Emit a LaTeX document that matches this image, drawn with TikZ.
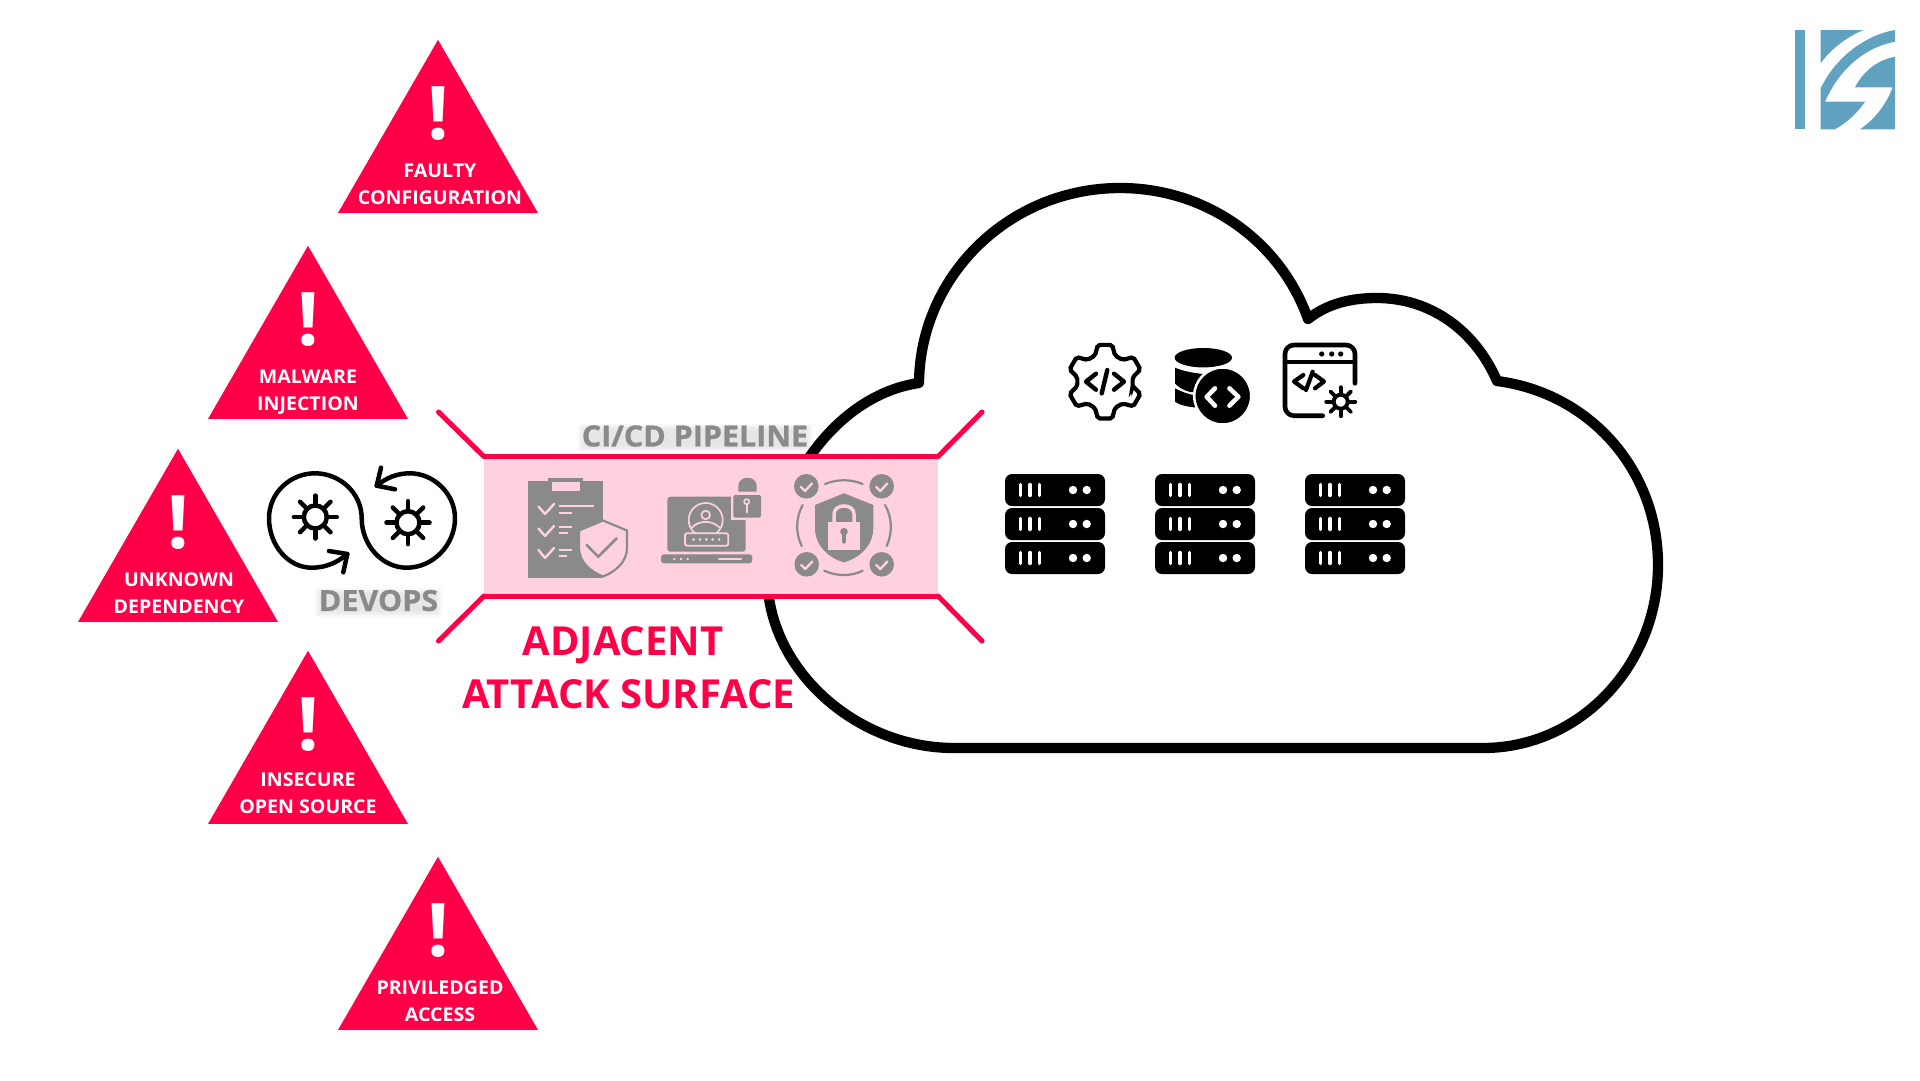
\documentclass[tikz,border=0pt]{standalone}
\usepackage{fontspec}
\setmainfont{Open Sans}[BoldFeatures={FakeStretch=1.03}]
\newfontfamily\titlefont{Open Sans}[BoldFeatures={FakeBold=0.9,FakeStretch=1.05}]
\newfontfamily\redfont{Open Sans}
\usetikzlibrary{shapes.geometric,shadows.blur}
\definecolor{alertred}{HTML}{FF0048}
\definecolor{surfacepink}{HTML}{FFD1DF}
\definecolor{icongray}{HTML}{8A8A8A}
\definecolor{logoblue}{HTML}{62A2C1}
\newcommand{\ringgear}[5]{%
  \begin{scope}[shift={(#1,#2)}]
    \draw[line width=#5] (0,0) circle[radius=#3];
    \foreach \a in {0,45,...,315} {\draw[line width=#5,line cap=round] (\a:#3) -- (\a:#4);}
  \end{scope}}
\tikzset{
  alerttri/.style={regular polygon,regular polygon sides=3,minimum size=230.9bp,inner sep=0,outer sep=0,fill=alertred},
  alertmark/.style={anchor=base,yshift=16bp,text=white,font=\bfseries\fontsize{74bp}{74bp}\selectfont,inner sep=0},
  alertlabel/.style={anchor=south,xshift=2bp,yshift=8.6bp,text=white,align=center,inner sep=0,text depth=0bp,font=\bfseries\fontsize{19bp}{27bp}\selectfont},
  spike/.style={draw=alertred,line width=5bp,line cap=round},
  graytitle/.style={inner sep=1bp,text=icongray,font=\titlefont\bfseries\fontsize{29bp}{29bp}\selectfont,
    blur shadow={shadow xshift=0bp,shadow yshift=-2bp,shadow blur radius=4bp,shadow opacity=10}},
  redtitle/.style={text=alertred,inner sep=0,anchor=base,font=\redfont\bfseries\fontsize{40bp}{40bp}\selectfont},
  grayline/.style={draw=icongray,line width=2.2bp,line cap=round,line join=round},
  pinkline/.style={draw=surfacepink,line width=1.7bp,line cap=round,line join=round},
  pics/rack/.style={code={
    \foreach \r in {0,34,68} {
      \fill[black,rounded corners=7bp] (0,\r) rectangle (100,\r+32);
      \foreach \s in {15.7,25,34.3} {\draw[white,line width=3.4bp,line cap=round] (\s,\r+10.5) -- (\s,\r+21.5);}
      \fill[white] (68,\r+16) circle[radius=4.2] (81.7,\r+16) circle[radius=4.2];
    }}},
}
\begin{document}
\begin{tikzpicture}[x=1bp,y=-1bp]
	\useasboundingbox (0,0) rectangle (1920,1080);
	%% cloud
	\draw[line width=10.3bp,line join=round,fill=white] (954,748) -- (1483,748)
	  .. controls (1580,748) and (1658,665) .. (1658,565)
	  .. controls (1658,470) and (1590,393) .. (1497,381)
	  .. controls (1475,330) and (1430,298) .. (1377,298)
	  .. controls (1350,298) and (1327,304) .. (1308,319)
	  .. controls (1280,240) and (1205,188) .. (1120,188)
	  .. controls (1010,188) and (920,275) .. (919,383)
	  .. controls (835,395) and (768,490) .. (768,590)
	  .. controls (776,676) and (860,748) .. (954,748) -- cycle;
	%% triangles
	\node (Faulty) at (438,155.3) [alerttri] {};
	\node (Malware) at (308,361.2) [alerttri] {};
	\node (Unknown) at (178,564.2) [alerttri] {};
	\node (Insecure) at (308,766.2) [alerttri] {};
	\node (Priv) at (438,972.2) [alerttri] {};
	\node (FaultyMark) at (Faulty.center) [alertmark] {!};
	\node (MalwareMark) at (Malware.center) [alertmark] {!};
	\node (UnknownMark) at (Unknown.center) [alertmark] {!};
	\node (InsecureMark) at (Insecure.center) [alertmark] {!};
	\node (PrivMark) at (Priv.center) [alertmark] {!};
	\node (FaultyText) at (Faulty.south) [alertlabel] {FAULTY\\CONFIGURATION};
	\node (MalwareText) at (Malware.south) [alertlabel,xshift=-2bp,yshift=-0.8bp] {MALWARE\\INJECTION};
	\node (UnknownText) at (Unknown.south) [alertlabel,xshift=-1bp] {UNKNOWN\\DEPENDENCY};
	\node (InsecureText) at (Insecure.south) [alertlabel,xshift=-2bp,yshift=2bp] {INSECURE\\OPEN SOURCE};
	\node (PrivText) at (Priv.south) [alertlabel] {PRIVILEDGED\\ACCESS};
	%% surface
	\node (Surface) at (711,526.3) [minimum width=454bp,minimum height=139.4bp,inner sep=0,outer sep=0,fill=surfacepink] {};
	\coordinate (SpikeNW) at (438.5,412);
	\coordinate (SpikeNE) at (982,412);
	\coordinate (SpikeSW) at (438.5,641);
	\coordinate (SpikeSE) at (982,641);
	\draw [spike] (Surface.north west) -- (SpikeNW);
	\draw [spike] (Surface.north east) -- (SpikeNE);
	\draw [spike] (Surface.south west) -- (SpikeSW);
	\draw [spike] (Surface.south east) -- (SpikeSE);
	\draw [spike,line cap=butt] (Surface.north west) -- (Surface.north east);
	\draw [spike,line cap=butt] (Surface.south west) -- (Surface.south east);
	\node (Pipeline) at (695,436) [graytitle] {CI/CD PIPELINE};
	\node (Devops) at (378.5,600.5) [graytitle] {DEVOPS};
	\node (Adjacent) at (623,655.7) [redtitle] {ADJACENT};
	\node (Attack) at (628.5,708.5) [redtitle] {ATTACK SURFACE};
	%% devops loop
	\draw[line width=4.5bp,line cap=round] (347.3,554) .. controls (337,563) and (325,567.7) .. (311.7,567.7)
	  .. controls (288,567.7) and (269,545) .. (269,518.3)
	  .. controls (269,493) and (290,473.3) .. (315,473.3)
	  .. controls (340,473.3) and (361.7,493) .. (361.7,518.3)
	  .. controls (361.7,545) and (382,567.7) .. (406.7,567.7)
	  .. controls (433,567.7) and (455,545) .. (455,518.3)
	  .. controls (455,493) and (433,473.3) .. (410,473.3)
	  .. controls (397,473.3) and (386,478) .. (376.7,485.7);
	\draw[line width=4.5bp,line cap=round,line join=round] (329,551) -- (347.3,554) -- (343.3,572.3);
	\draw[line width=4.5bp,line cap=round,line join=round] (381,467.7) -- (376.7,485.7) -- (395,489.3);
	\ringgear{315.3}{517}{11.5}{21.5}{4.5bp}
	\ringgear{408}{522.7}{11.5}{21.5}{4.5bp}
	%% clipboard
	\fill[icongray] (528.3,481) rectangle (603.3,577.7);
	\fill[icongray] (548.3,478.3) rectangle (583.3,483);
	\fill[surfacepink] (551.7,481.7) rectangle (580,490.7);
	\draw[pinkline,line width=2.4bp] (538.5,506.5) -- (545,514) -- (554,504);
	\draw[pinkline,line width=2.4bp] (538.5,528.5) -- (545,536) -- (554,526);
	\draw[pinkline,line width=2.4bp] (538.5,550) -- (545,558) -- (554,548);
	\draw[pinkline,line width=2bp,line cap=butt] (558.5,506.3) -- (594,506.3) (558.5,512.7) -- (571.7,512.7);
	\draw[pinkline,line width=2bp,line cap=butt] (558.5,527.3) -- (571.7,527.3) (558.5,533.3) -- (568.3,533.3);
	\draw[pinkline,line width=2bp,line cap=butt] (558.5,549.7) -- (572,549.7) (558.5,555.7) -- (566.7,555.7);
	\draw[draw=icongray,fill=surfacepink,line width=2.2bp,line join=round] (603,520.5) -- (627,530.5) -- (627,548)
	  .. controls (627,562) and (615,572) .. (603,576.5) .. controls (591,572) and (579,562) .. (579,548) -- (579,530.5) -- cycle;
	\draw[grayline,line width=2.6bp] (586.7,545) -- (598.3,556.7) -- (616.7,538.3);
	%% laptop
	\fill[icongray,rounded corners=3bp] (667.3,496.7) rectangle (745.7,551.7);
	\draw[draw=surfacepink,line width=1.6bp,fill=surfacepink] (731.5,493.5) rectangle (762.5,519);
	\fill[icongray] (738.3,491.5) -- (738.3,486 ) .. controls (738.3,475) and (756.7,475) .. (756.7,486) -- (756.7,491.5) -- cycle;
	\fill[icongray,rounded corners=1.5bp] (733.3,495) rectangle (761,517.7);
	\draw[pinkline] (746.7,501.7) circle[radius=2.6];
	\draw[pinkline] (746.7,504.3) -- (746.7,512.5);
	\draw[pinkline] (705.7,520) circle[radius=17];
	\draw[pinkline] (705.7,515) circle[radius=4.3];
	\draw[pinkline] (692,527.5) .. controls (699,520) and (712,520) .. (719.5,527.5);
	\draw[draw=surfacepink,line width=1.7bp,fill=icongray,rounded corners=1.5bp] (685,533.3) rectangle (728.3,545.7);
	\foreach \d in {693.5,699.9,706.3,712.7,719.1} {\fill[surfacepink] (\d,539.5) circle[radius=1.5];}
	\fill[icongray,rounded corners=3bp] (661,554.3) -- (752.3,554.3) -- (752.3,563.3) -- (661,563.3) -- cycle;
	\fill[surfacepink] (674.3,559) circle[radius=1.3] (681,559) circle[radius=1.3] (687.7,559) circle[radius=1.3];
	\draw[pinkline,line width=2bp] (719,559) -- (741,559);
	%% lock shield
	\fill[icongray] (844,493.3) -- (815,505) -- (815,528) .. controls (815,545) and (828,558) .. (844,562.3)
	  .. controls (860,558) and (873.3,545) .. (873.3,528) -- (873.3,505) -- cycle;
	\fill[surfacepink] (827.7,522.3) rectangle (860,550);
	\draw[draw=surfacepink,line width=3.5bp] (834,523) -- (834,514) .. controls (834,503.3) and (854,503.3) .. (854,514) -- (854,523);
	\fill[icongray] (844,531.7) circle[radius=3.8];
	\draw[grayline,line width=3.2bp] (844,532) -- (844,542);
	\fill[icongray] (806.3,486.3) circle[radius=12.3] (881.7,486.3) circle[radius=12.3] (806.7,564.3) circle[radius=12.3] (881.7,564.3) circle[radius=12.3];
	\draw[pinkline,line width=2.4bp] (801,487) -- (805,491) -- (812,483.5);
	\draw[pinkline,line width=2.4bp] (876.3,487) -- (880.3,491) -- (887.3,483.5);
	\draw[pinkline,line width=2.4bp] (801.3,565) -- (805.3,569) -- (812.3,561.5);
	\draw[pinkline,line width=2.4bp] (876.3,565) -- (880.3,569) -- (887.3,561.5);
	\draw[grayline] (825,484) .. controls (837,479) and (851,479) .. (862.7,484);
	\draw[grayline] (824.3,570.7) .. controls (837,576.5) and (851,576.5) .. (862.7,570.7);
	\draw[grayline] (802.7,505) .. controls (795.5,518) and (795.5,533) .. (801.7,546);
	\draw[grayline] (885,505) .. controls (892.5,518) and (892.5,533) .. (886.7,546);
	%% code gear
	\begin{scope}[shift={(1105,381.7)}]
	  \draw[line width=4.2bp,rounded corners=2bp] (10:28) \foreach \a in {30,90,...,330} { -- (\a-21:28) -- (\a-11:37.5) -- (\a+11:37.5) -- (\a+21:28)} -- cycle;
	  \draw[line width=4.4bp,line cap=round,line join=round] (-9,-8) -- (-19,0) -- (-9,8) (9,-8) -- (19,0) -- (9,8) (2.3,-11.7) -- (-3.3,11.7);
	\end{scope}
	%% database
	\fill (1203.3,357.7) ellipse[x radius=28.7,y radius=9.7];
	\fill (1175,367.7) .. controls (1190,374) and (1215,376) .. (1235,374) -- (1235,392) -- (1190,392) .. controls (1183,390) and (1178,387) .. (1175,383.3) -- cycle;
	\fill (1175,388.3) .. controls (1182,392) and (1190,395) .. (1200,396) -- (1200,408) .. controls (1188,407) and (1179,405) .. (1175,401.7) -- cycle;
	\draw[draw=white,line width=2.5bp,fill=black] (1222.7,396) circle[radius=28.5];
	\draw[white,line width=4.5bp,line cap=round,line join=round] (1215,388.3) -- (1206.7,396.8) -- (1215,405.7) (1229.4,388.3) -- (1238.4,396.8) -- (1229.4,405.7);
	%% code window
	\draw[line width=4.6bp,line cap=round,rounded corners=9bp] (1355,383.3) -- (1355,345) -- (1285,345) -- (1285,415.7) -- (1322.7,415.7);
	\draw[line width=4bp] (1285,361.7) -- (1355,361.7);
	\fill (1321.7,354) circle[radius=2.6] (1331.7,354) circle[radius=2.6] (1340.7,354) circle[radius=2.6];
	\draw[line width=4.2bp,line cap=round,line join=round] (1303.3,375) -- (1294,381.5) -- (1303.3,388.3) (1315,375) -- (1324,381.5) -- (1315,388.3) (1312.7,371.7) -- (1306,390);
	\ringgear{1340.7}{401.7}{7}{14.5}{3.8bp}
	%% racks
	\pic at (1005,474) {rack};
	\pic at (1155,474) {rack};
	\pic at (1305,474) {rack};
	%% logo
	\fill[logoblue] (1795,30) rectangle (1805,129.3);
	\fill[logoblue] (1820.7,30) -- (1863.3,30) .. controls (1845,38) and (1830,50) .. (1820.7,63.3) -- cycle;
	\fill[logoblue] (1895,30) -- (1895,41.7) .. controls (1862,48) and (1838,72) .. (1825,101.7) -- (1865,101.7)
	  .. controls (1858,112) and (1848,122) .. (1835,129.3) -- (1820.7,129.3) -- (1820.7,88.3) .. controls (1835,58) and (1865,35) .. (1895,30) -- cycle;
	\fill[logoblue] (1895,56.7) .. controls (1878,60) and (1864,70) .. (1855,87.3) -- (1892.7,87.3)
	  .. controls (1886,105) and (1874,120) .. (1860,129.3) -- (1895,129.3) -- cycle;
	%
\end{tikzpicture}
\end{document}
